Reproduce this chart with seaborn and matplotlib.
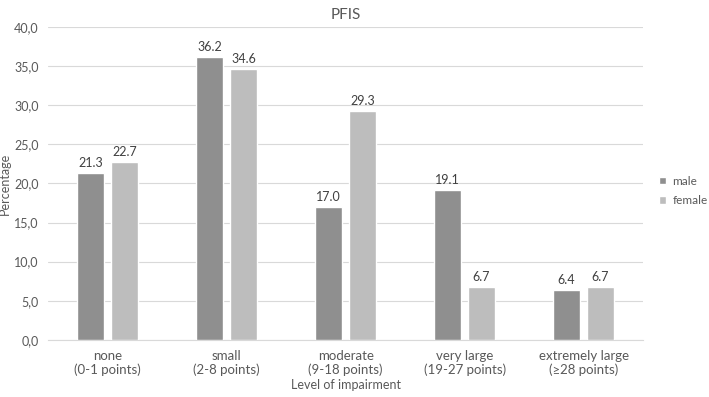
import pandas as pd
import numpy as np
import seaborn as sns
import matplotlib.pyplot as plt
from matplotlib.ticker import FuncFormatter

# 数据
categories = ["none\n(0-1 points)", "small\n(2-8 points)", "moderate\n(9-18 points)",
              "very large\n(19-27 points)", "extremely large\n(≥28 points)"]
male = [21.3, 36.2, 17.0, 19.1, 6.4]
female = [22.7, 34.6, 29.3, 6.7, 6.7]
groups = ["male", "female"]

df = pd.DataFrame({
    "level": categories * 2,
    "sex": ["male"] * len(categories) + ["female"] * len(categories),
    "pct": male + female,
})

sns.set_style("white")
plt.rcParams['font.family'] = ['Lato', 'DejaVu Sans']
text_col = "#595959"

fig = plt.figure(figsize=(7.09, 3.97), dpi=100)
ax = fig.add_axes([0.068, 0.144, 0.839, 0.788])

sns.barplot(data=df, x="level", y="pct", hue="sex", hue_order=groups,
            palette=["#8f8f8f", "#bdbdbd"], width=0.57, gap=0.2,
            saturation=1, ax=ax, legend=True, zorder=3)

# 数值标签
for cont in ax.containers:
    ax.bar_label(cont, fmt="%.1f", padding=3, fontsize=9, color="#404040")

# 坐标轴
ax.set_ylim(0, 40)
ax.set_yticks(np.arange(0, 41, 5))
ax.yaxis.set_major_formatter(FuncFormatter(lambda v, p: f"{v:.1f}".replace(".", ",")))
ax.grid(axis="y", color="#d9d9d9", linewidth=0.8, zorder=0)
for s in ["top", "right", "left"]:
    ax.spines[s].set_visible(False)
ax.spines["bottom"].set_color("#d9d9d9")
ax.tick_params(axis="both", length=0, labelsize=9, colors=text_col)
ax.tick_params(axis="x", pad=7, labelsize=9.5)
ax.tick_params(axis="y", pad=7)
ax.set_xlabel("Level of impairment", fontsize=9, color=text_col, labelpad=2)
ax.set_ylabel("Percentage", fontsize=9, color=text_col)
ax.yaxis.set_label_coords(-0.062, 0.5)
ax.set_title("PFIS", fontsize=11, color=text_col, pad=6)

ax.legend(loc="center left", bbox_to_anchor=(0.93, 0.519), bbox_transform=fig.transFigure,
          frameon=False, fontsize=8.5, handlelength=0.6, handleheight=0.6,
          handletextpad=0.5, labelcolor=text_col, labelspacing=0.7,
          borderpad=0, borderaxespad=0)

plt.savefig("out.png", dpi=100)
